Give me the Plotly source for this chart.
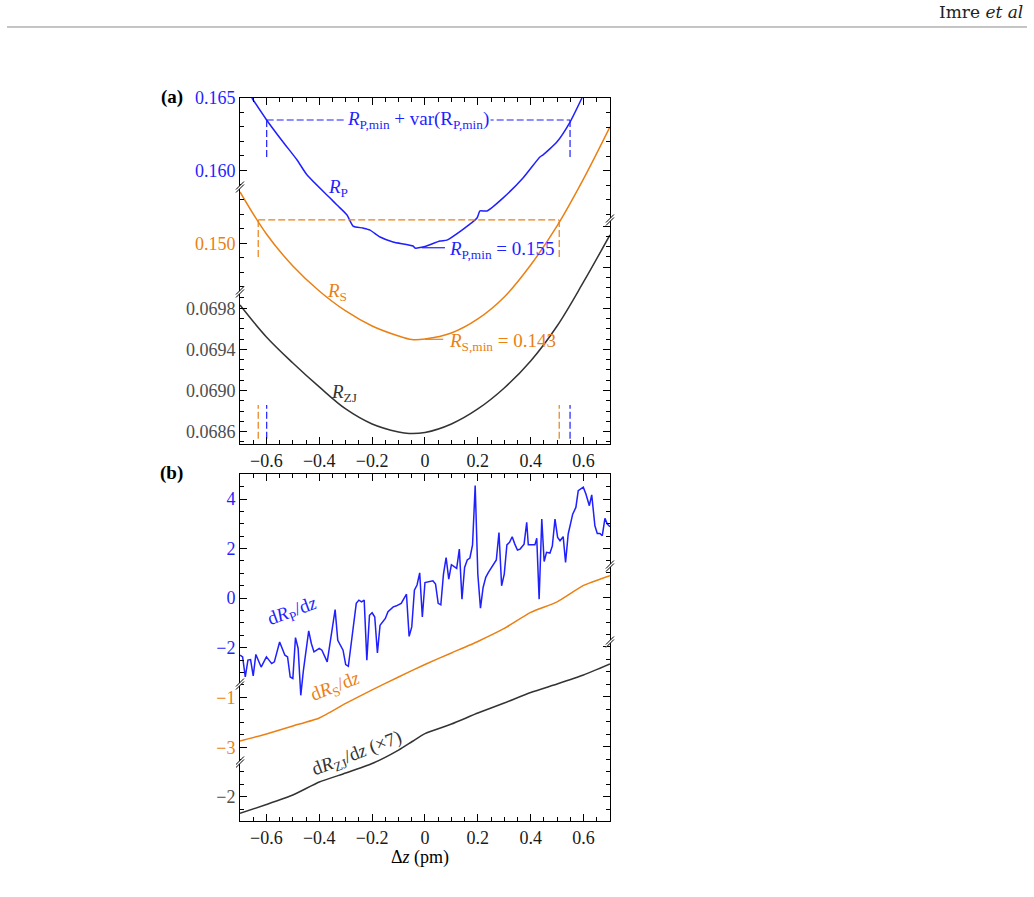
import plotly.graph_objects as go

BLUE = '#1f1fff'
ORANGE = '#ea8014'
DARK = '#333333'
GRAYTXT = '#4d4d4d'
FONT = 'Liberation Serif'
TICKSIZE = 18
TEXTSIZE = 19

# ---------------- Panel (a) data ----------------
rp_x = [-0.655, -0.600, -0.537, -0.484, -0.446, -0.359, -0.333, -0.295, -0.272, -0.235,
        -0.208, -0.170, -0.121, -0.045, -0.038, -0.008, 0.057, 0.083, 0.140, 0.197,
        0.208, 0.235, 0.295, 0.371, 0.435, 0.446, 0.499, 0.549, 0.594]
rp_y = [0.16500, 0.16350, 0.16196, 0.16072, 0.15968, 0.15809, 0.15761, 0.15692, 0.15616, 0.15602,
        0.15588, 0.15540, 0.15506, 0.15478, 0.15464, 0.15471, 0.15512, 0.15519, 0.15588, 0.15671,
        0.15720, 0.15720, 0.15809, 0.15948, 0.16093, 0.16106, 0.16196, 0.16334, 0.16500]

rs_x = [-0.7, -0.6, -0.5, -0.4, -0.3, -0.2, -0.1, -0.05, 0.0, 0.1, 0.2, 0.3, 0.4, 0.5, 0.6, 0.7]
rs_y = [0.153543, 0.150642, 0.148432, 0.146706, 0.145325, 0.144289, 0.143598, 0.143356,
        0.143391, 0.143805, 0.144772, 0.146291, 0.148501, 0.151195, 0.154441, 0.158032]

rzj_x = [-0.7, -0.6, -0.5, -0.4, -0.3, -0.2, -0.1, -0.06, 0.0, 0.1, 0.2, 0.3, 0.4, 0.5, 0.6, 0.7]
rzj_y = [0.069832, 0.069521, 0.069268, 0.069035, 0.068821, 0.068675, 0.068597, 0.068582,
         0.068592, 0.068675, 0.068821, 0.069025, 0.069288, 0.069628, 0.070056, 0.070513]

# thresholds (R_min + var) and crossing positions
rp_thr = 0.16348
rp_thr_low = 0.16093
rp_cross = [-0.599, 0.549]
rs_thr = 0.15161
rs_thr_low = 0.14898
rs_cross = [-0.631, 0.508]
zj_mark = [0.06853, 0.06886]
rp_min_txt = '0.155'
rs_min_txt = '0.143'
rp_min_val = 0.15466
rs_min_val = 0.14337

# ---------------- Panel (b) data ----------------
drp_x = [-0.70, -0.69, -0.68, -0.67, -0.66, -0.65, -0.64, -0.62, -0.60, -0.58,
         -0.57, -0.55, -0.53, -0.52, -0.51, -0.50, -0.49, -0.48, -0.47, -0.46,
         -0.44, -0.43, -0.42, -0.40, -0.39, -0.37, -0.34, -0.33, -0.31, -0.30,
         -0.29, -0.27, -0.26, -0.25, -0.24, -0.23, -0.22, -0.21, -0.20, -0.19,
         -0.18, -0.17, -0.15, -0.14, -0.12, -0.11, -0.09, -0.07, -0.06, -0.05,
         -0.04, -0.03, -0.02, -0.01, 0.00, 0.03, 0.04, 0.05, 0.06, 0.07,
         0.08, 0.09, 0.10, 0.12, 0.13, 0.14, 0.15, 0.16, 0.17, 0.18,
         0.19, 0.20, 0.21, 0.22, 0.23, 0.24, 0.26, 0.27, 0.28, 0.29,
         0.30, 0.31, 0.32, 0.33, 0.34, 0.35, 0.36, 0.375, 0.385, 0.391,
         0.416, 0.423, 0.432, 0.442, 0.451, 0.460, 0.473, 0.482, 0.492, 0.502,
         0.511, 0.523, 0.532, 0.542, 0.559, 0.571, 0.580, 0.599, 0.609, 0.622,
         0.631, 0.643, 0.652, 0.662, 0.671, 0.681, 0.690, 0.700]
drp_y = [-2.30, -2.37, -3.18, -2.50, -2.48, -3.14, -2.27, -2.78, -2.37, -2.64,
         -2.57, -1.77, -2.30, -2.37, -3.18, -3.24, -1.59, -2.03, -3.92, -2.91,
         -1.32, -1.83, -2.17, -2.03, -2.10, -2.57, -0.46, -1.70, -2.10, -2.68,
         -2.75, -1.16, -0.21, -0.08, -0.15, -0.08, -2.50, -0.69, -0.59, -0.76,
         -2.21, -1.09, -0.82, -0.55, -0.35, -0.32, -0.21, 0.16, -1.54, -1.16,
         0.32, 0.53, 1.02, -0.76, 0.63, 0.70, 0.57, -0.21, -0.27, 0.97,
         1.64, 0.77, 1.35, 1.20, 1.98, -0.04, 1.24, 1.54, 1.62, 2.15,
         4.54, 0.97, -0.40, 0.43, 0.84, 1.04, 1.37, 1.54, 2.65, 0.50,
         0.97, 2.15, 2.25, 2.48, 2.18, 1.94, 1.98, 2.18, 3.06, 2.15,
         2.15, 2.42, -0.04, 3.19, 1.48, 1.85, 1.82, 2.11, 3.19, 2.45,
         2.32, 2.48, 1.44, 2.59, 3.39, 3.66, 4.34, 4.48, 4.20, 3.73,
         4.17, 2.92, 2.61, 2.61, 2.52, 3.22, 2.99, 2.88]

drs_x = [-0.7, -0.6, -0.5, -0.4, -0.3, -0.2, -0.1, 0.0, 0.1, 0.2, 0.3, 0.4, 0.5, 0.6, 0.7]
drs_y = [-2.748, -2.468, -2.148, -1.828, -1.248, -0.708, -0.188, 0.312, 0.772, 1.232,
         1.752, 2.392, 2.812, 3.472, 3.864]

drzj_x = [-0.7, -0.6, -0.5, -0.4, -0.3, -0.2, -0.1, -0.05, 0.0, 0.1, 0.2, 0.3, 0.4, 0.5, 0.6, 0.7]
drzj_y = [-2.664, -2.312, -1.932, -1.412, -1.052, -0.672, -0.132, 0.200, 0.528, 0.908,
          1.348, 1.748, 2.168, 2.508, 2.868, 3.308]

# ---------------- ticks ----------------
x_major = [-0.6, -0.4, -0.2, 0, 0.2, 0.4, 0.6]
x_labels = ['\u22120.6', '\u22120.4', '\u22120.2', '0', '0.2', '0.4', '0.6']
x_minor = [-0.7, -0.65, -0.55, -0.5, -0.45, -0.35, -0.3, -0.25, -0.15, -0.1, -0.05,
           0.05, 0.1, 0.15, 0.25, 0.3, 0.35, 0.45, 0.5, 0.55, 0.65, 0.7]

a_blue_major = [0.165, 0.160]
a_blue_labels = ['0.165', '0.160']
a_blue_minor = [0.164, 0.163, 0.162, 0.161, 0.159]
a_orange_major = [0.150]
a_orange_labels = ['0.150']
a_orange_minor = [0.153, 0.152, 0.151, 0.149, 0.148, 0.147]
a_black_major = [0.0698, 0.0694, 0.0690, 0.0686]
a_black_labels = ['0.0698', '0.0694', '0.0690', '0.0686']
a_black_minor = [0.0699, 0.0697, 0.0696, 0.0695, 0.0693, 0.0692, 0.0691, 0.0689, 0.0688, 0.0687, 0.0685]
a_orange_r_major = [0.155]
a_orange_r_minor = [0.159, 0.158, 0.157, 0.156, 0.154, 0.153, 0.152]
a_black_r_major = [0.0706, 0.0702, 0.0698, 0.0694, 0.0690, 0.0686]
a_black_r_minor = [0.0705, 0.0704, 0.0703, 0.0701, 0.0700, 0.0699, 0.0697, 0.0696, 0.0695,
                   0.0693, 0.0692, 0.0691, 0.0689, 0.0688, 0.0687, 0.0685]

b_blue_major = [4, 2, 0, -2]
b_blue_labels = ['4', '2', '0', '\u22122']
b_blue_minor = [4.5, 3.5, 3, 2.5, 1.5, 1, 0.5, -0.5, -1, -1.5, -2.5, -3, -3.5]
b_orange_major = [-1, -3]
b_orange_labels = ['\u22121', '\u22123']
b_orange_minor = [-1.5, -2, -2.5, -3.5]
b_black_major = [-2]
b_black_labels = ['\u22122']
b_black_minor = [-1, -1.5, -2.5]
b_blue_r_major = [4, 2]
b_blue_r_minor = [4.5, 3.5, 3, 2.5, 1.5]
b_orange_r_major = [3]
b_orange_r_minor = [4, 3.5, 2.5, 2, 1.5]
b_black_r_major = [4, 2, 0, -2]
b_black_r_minor = [3.5, 3, 2.5, 1.5, 1, 0.5, -0.5, -1, -1.5, -2.5]

# ---------------- layout geometry ----------------
XDOM = [0.2321, 0.5899]
ADOM = [0.50502, 0.89075]
BDOM = [0.08473, 0.47157]
a_rng_blue = [0.14111, 0.165]
a_rng_orange = [0.13614, 0.16003]
a_rng_black = [0.06848, 0.071845]
b_rng_blue = [-8.99, 5.009]
b_rng_orange = [-5.95, 7.93]
b_rng_black = [-2.97, 10.91]

fig = go.Figure()

def line(x, y, color, xa, ya, width=1.5, dash=None, shape='linear', smoothing=1.0):
    ln = dict(color=color, width=width, dash=dash, shape=shape)
    if shape == 'spline':
        ln['smoothing'] = smoothing
    fig.add_trace(go.Scatter(x=x, y=y, mode='lines', xaxis=xa, yaxis=ya, line=ln,
                             hoverinfo='skip', showlegend=False))

# panel (a) curves
line(rs_x, rs_y, ORANGE, 'x', 'y2', shape='spline')
line(rzj_x, rzj_y, DARK, 'x', 'y3', shape='spline')
line(rp_x, rp_y, BLUE, 'x', 'y', shape='spline', smoothing=0.6)

DASH = '7px,3px'
line([rp_cross[0], rp_cross[1], None, rp_cross[0], rp_cross[0], None, rp_cross[1], rp_cross[1]],
     [rp_thr, rp_thr, None, rp_thr, rp_thr_low, None, rp_thr, rp_thr_low], BLUE, 'x', 'y', 1.2, DASH)
line([rs_cross[0], rs_cross[1], None, rs_cross[0], rs_cross[0], None, rs_cross[1], rs_cross[1]],
     [rs_thr, rs_thr, None, rs_thr, rs_thr_low, None, rs_thr, rs_thr_low], ORANGE, 'x', 'y4', 1.2, DASH)
line([rs_cross[0], rs_cross[0], None, rs_cross[1], rs_cross[1]],
     [zj_mark[0], zj_mark[1], None, zj_mark[0], zj_mark[1]], ORANGE, 'x', 'y5', 1.2, DASH)
line([rp_cross[0], rp_cross[0], None, rp_cross[1], rp_cross[1]],
     [zj_mark[0], zj_mark[1], None, zj_mark[0], zj_mark[1]], BLUE, 'x', 'y5', 1.2, DASH)

# panel (b) curves
line(drs_x, drs_y, ORANGE, 'x2', 'y10', shape='spline', smoothing=0.5)
line(drzj_x, drzj_y, DARK, 'x2', 'y11', shape='spline', smoothing=0.5)
line(drp_x, drp_y, BLUE, 'x2', 'y9')


def xax(anchor):
    return dict(domain=XDOM, range=[-0.7, 0.7], anchor=anchor, tickmode='array',
                tickvals=x_major, ticktext=x_labels, ticks='inside', ticklen=7, tickwidth=1,
                tickcolor='black', mirror='ticks', showline=True, linecolor='black', linewidth=1,
                showgrid=False, zeroline=False, automargin=False,
                minor=dict(tickmode='array', tickvals=x_minor, ticks='inside', ticklen=4,
                           tickwidth=1, tickcolor='black', showgrid=False),
                tickfont=dict(family=FONT, size=TICKSIZE, color='#1a1a1a'), fixedrange=True)


def yax(domain, rng, side, anchor, overlay, major, labels, minor, color):
    d = dict(range=rng, side=side, anchor=anchor, tickmode='array', tickvals=major,
             showticklabels=labels is not None, ticks='inside', ticklen=7, tickwidth=1,
             tickcolor='black', showline=True, linecolor='black', linewidth=1,
             showgrid=False, zeroline=False, automargin=False,
             minor=dict(tickmode='array', tickvals=minor, ticks='inside', ticklen=4,
                        tickwidth=1, tickcolor='black', showgrid=False),
             tickfont=dict(family=FONT, size=TICKSIZE, color=color), fixedrange=True)
    if labels is not None:
        d['ticktext'] = labels
    if overlay:
        d['overlaying'] = overlay
    else:
        d['domain'] = domain
    return d

fig.update_layout(
    xaxis=xax('y'),
    xaxis2=xax('y6'),
    yaxis=yax(ADOM, a_rng_blue, 'left', 'x', None, a_blue_major, a_blue_labels, a_blue_minor, BLUE),
    yaxis2=yax(ADOM, a_rng_orange, 'left', 'x', 'y', a_orange_major, a_orange_labels, a_orange_minor, ORANGE),
    yaxis3=yax(ADOM, a_rng_black, 'left', 'x', 'y', a_black_major, a_black_labels, a_black_minor, GRAYTXT),
    yaxis4=yax(ADOM, a_rng_orange, 'right', 'x', 'y', a_orange_r_major, None, a_orange_r_minor, ORANGE),
    yaxis5=yax(ADOM, a_rng_black, 'right', 'x', 'y', a_black_r_major, None, a_black_r_minor, GRAYTXT),
    yaxis6=yax(BDOM, b_rng_blue, 'left', 'x2', None, b_blue_major, b_blue_labels, b_blue_minor, BLUE),
    yaxis7=yax(BDOM, b_rng_orange, 'left', 'x2', 'y6', b_orange_major, b_orange_labels, b_orange_minor, ORANGE),
    yaxis8=yax(BDOM, b_rng_black, 'left', 'x2', 'y6', b_black_major, b_black_labels, b_black_minor, GRAYTXT),
    yaxis9=yax(BDOM, b_rng_blue, 'right', 'x2', 'y6', b_blue_r_major, None, b_blue_r_minor, BLUE),
    yaxis10=yax(BDOM, b_rng_orange, 'right', 'x2', 'y6', b_orange_r_major, None, b_orange_r_minor, ORANGE),
    yaxis11=yax(BDOM, b_rng_black, 'right', 'x2', 'y6', b_black_r_major, None, b_black_r_minor, GRAYTXT),
)

# ---------------- axis-break marks ----------------
breaks = [(XDOM[0], 0.79041), (XDOM[0], 0.67336), (XDOM[1], 0.75362),
          (XDOM[0], 0.23634), (XDOM[0], 0.14939), (XDOM[1], 0.36789), (XDOM[1], 0.28317)]
shapes = []
for bx, by in breaks:
    common = dict(xref='paper', yref='paper', xsizemode='pixel', ysizemode='pixel',
                  xanchor=bx, yanchor=by, layer='above')
    shapes.append(dict(type='path', path='M-4,-4.5 L4,3.5 L4,6.5 L-4,-1.5 Z',
                       fillcolor='white', line=dict(width=0), **common))
    shapes.append(dict(type='path', path='M-4,-4.5 L4,3.5', line=dict(color='black', width=1), **common))
    shapes.append(dict(type='path', path='M-4,-1.5 L4,6.5', line=dict(color='black', width=1), **common))

shapes.append(dict(type='line', xref='x', yref='y', x0=-0.0125, x1=0.0757,
                   y0=rp_min_val, y1=rp_min_val, line=dict(color=BLUE, width=1.2)))
shapes.append(dict(type='line', xref='x', yref='y2', x0=0.0, x1=0.069,
                   y0=rs_min_val, y1=rs_min_val, line=dict(color=ORANGE, width=1.2)))
shapes.append(dict(type='line', xref='paper', yref='paper', x0=0.0068, x1=0.9932,
                   y0=0.9699, y1=0.9699, line=dict(color='#8a8a8a', width=1)))
fig.update_layout(shapes=shapes)

# ---------------- annotations ----------------
ann = []
def A(text, x, y, xref, yref, color, xanchor='center', yanchor='middle', angle=0,
      size=TEXTSIZE, bg=None, family=FONT):
    d = dict(text=text, x=x, y=y, xref=xref, yref=yref, showarrow=False, xanchor=xanchor,
             yanchor=yanchor, textangle=angle, font=dict(family=family, size=size, color=color))
    if bg:
        d['bgcolor'] = bg
        d['borderpad'] = 1
    ann.append(d)

A('<i>R</i><sub>P,min</sub> + var(R<sub>P,min</sub>)', -0.026, rp_thr, 'x', 'y', BLUE, bg='white')
A('<i>R</i><sub>P</sub>', -0.33, 0.15878, 'x', 'y', BLUE)
A('<i>R</i><sub>P,min</sub> = ' + rp_min_txt, 0.083, 0.15450, 'x', 'y', BLUE, xanchor='left')
A('<i>R</i><sub>S</sub>', -0.333, 0.14662, 'x', 'y2', ORANGE)
A('<i>R</i><sub>S,min</sub> = ' + rs_min_txt, 0.083, 0.14318, 'x', 'y2', ORANGE, xanchor='left')
A('<i>R</i><sub>ZJ</sub>', -0.305, 0.06898, 'x', 'y3', DARK)
A('d<i>R</i><sub>P</sub>/d<i>z</i>', -0.503, -0.565, 'x2', 'y6', BLUE, angle=-20)
A('d<i>R</i><sub>S</sub>/d<i>z</i>', -0.337, -0.60, 'x2', 'y7', ORANGE, angle=-21)
A('d<i>R</i><sub>ZJ</sub>/d<i>z</i> (\u00d77)', -0.257, -0.30, 'x2', 'y8', DARK, angle=-21)
A('<b>(a)</b>', 0.1663, 0.8919, 'paper', 'paper', 'black')
A('<b>(b)</b>', 0.1663, 0.4727, 'paper', 'paper', 'black')
A('\u0394<i>z</i> (pm)', 0.4062, 0.04348, 'paper', 'paper', 'black', size=TICKSIZE)
A('Imre <i>et al</i>', 0.9913, 0.98662, 'paper', 'paper', '#222222', xanchor='right',
  size=17, family='DejaVu Serif')
fig.update_layout(annotations=ann)

fig.update_layout(width=1034, height=897,
                  margin=dict(l=0, r=0, t=0, b=0, pad=0, autoexpand=False),
                  paper_bgcolor='white', plot_bgcolor='white', showlegend=False)

fig.write_html('out.html')
